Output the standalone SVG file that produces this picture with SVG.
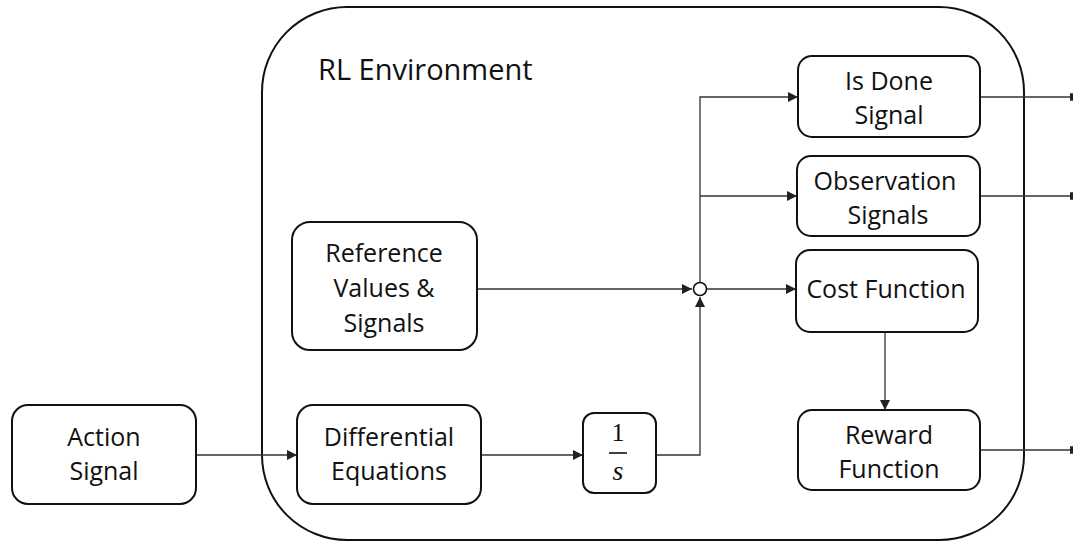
<svg xmlns="http://www.w3.org/2000/svg" width="1073" height="543" viewBox="0 0 1073 543">
  <defs>
    <marker id="arrow" viewBox="0 0 10 10" refX="10" refY="5" markerWidth="10" markerHeight="10" markerUnits="userSpaceOnUse" orient="auto">
      <path d="M0,0 L10,5 L0,10 z" fill="#222"/>
    </marker>
    <marker id="tick" viewBox="0 0 4 10" refX="4" refY="5" markerWidth="3" markerHeight="10" markerUnits="userSpaceOnUse" orient="auto">
      <rect x="0" y="0" width="4" height="10" fill="#222"/>
    </marker>
  </defs>
  <style>
    .box { fill: #fff; stroke: #111; stroke-width: 2; }
    .env { fill: none; stroke: #111; stroke-width: 2; }
    .lbl { font-family: "Open Sans", "Liberation Sans", sans-serif; font-size: 25px; fill: #111; text-anchor: middle; }
    .wire { fill: none; stroke: #333; stroke-width: 1.3; }
  </style>
  <rect width="1073" height="543" fill="#fff"/>

  <g id="rl-environment">
    <rect class="env" x="262" y="7" width="762" height="533" rx="85" ry="85"/>
    <text x="318" y="80" font-family="Open Sans, Liberation Sans, sans-serif" font-size="29" fill="#111">RL Environment</text>
  </g>

  <g id="connectors">
    <path class="wire" d="M196,455 H297" marker-end="url(#arrow)"/>
    <path class="wire" d="M481,455 H583" marker-end="url(#arrow)"/>
    <path class="wire" d="M656,455 H700 V297" marker-end="url(#arrow)"/>
    <path class="wire" d="M477,289 H692" marker-end="url(#arrow)"/>
    <path class="wire" d="M707,289 H796" marker-end="url(#arrow)"/>
    <path class="wire" d="M700,282 V97 H798" marker-end="url(#arrow)"/>
    <path class="wire" d="M700,196 H797" marker-end="url(#arrow)"/>
    <path class="wire" d="M885,332 V410" marker-end="url(#arrow)"/>
    <path class="wire" d="M980,97 H1073" marker-end="url(#tick)"/>
    <path class="wire" d="M980,196 H1073" marker-end="url(#tick)"/>
    <path class="wire" d="M980,450 H1073" marker-end="url(#tick)"/>
  </g>

  <g id="junction">
    <circle cx="700" cy="289" r="6.5" fill="#fff" stroke="#111" stroke-width="1.6"/>
  </g>

  <g id="action-signal">
    <rect class="box" x="12" y="405" width="184" height="99" rx="16"/>
    <text class="lbl" x="104" y="446">Action</text>
    <text class="lbl" x="104" y="480">Signal</text>
  </g>

  <g id="differential-equations">
    <rect class="box" x="297" y="405" width="184" height="99" rx="16"/>
    <text class="lbl" x="389" y="446">Differential</text>
    <text class="lbl" x="389" y="480">Equations</text>
  </g>

  <g id="integrator">
    <rect class="box" x="583" y="413" width="73" height="80" rx="11"/>
    <text x="618" y="441" font-family="Liberation Serif, serif" font-size="26" fill="#111" text-anchor="middle">1</text>
    <line x1="609" y1="453" x2="627" y2="453" stroke="#111" stroke-width="1.6"/>
    <text x="618" y="480" font-family="Liberation Serif, serif" font-style="italic" font-size="28" fill="#111" text-anchor="middle">s</text>
  </g>

  <g id="reference-values">
    <rect class="box" x="292" y="222" width="185" height="128" rx="18"/>
    <text class="lbl" x="384" y="262">Reference</text>
    <text class="lbl" x="384" y="297">Values &amp;</text>
    <text class="lbl" x="384" y="332">Signals</text>
  </g>

  <g id="is-done-signal">
    <rect class="box" x="798" y="56" width="182" height="81" rx="14"/>
    <text class="lbl" x="889" y="90">Is Done</text>
    <text class="lbl" x="889" y="124">Signal</text>
  </g>

  <g id="observation-signals">
    <rect class="box" x="797" y="156" width="183" height="80" rx="14"/>
    <text class="lbl" x="885" y="190">Observation</text>
    <text class="lbl" x="888" y="224">Signals</text>
  </g>

  <g id="cost-function">
    <rect class="box" x="796" y="250" width="182" height="82" rx="14"/>
    <text class="lbl" x="886" y="298">Cost Function</text>
  </g>

  <g id="reward-function">
    <rect class="box" x="798" y="410" width="182" height="80" rx="14"/>
    <text class="lbl" x="889" y="444">Reward</text>
    <text class="lbl" x="889" y="478">Function</text>
  </g>
</svg>
